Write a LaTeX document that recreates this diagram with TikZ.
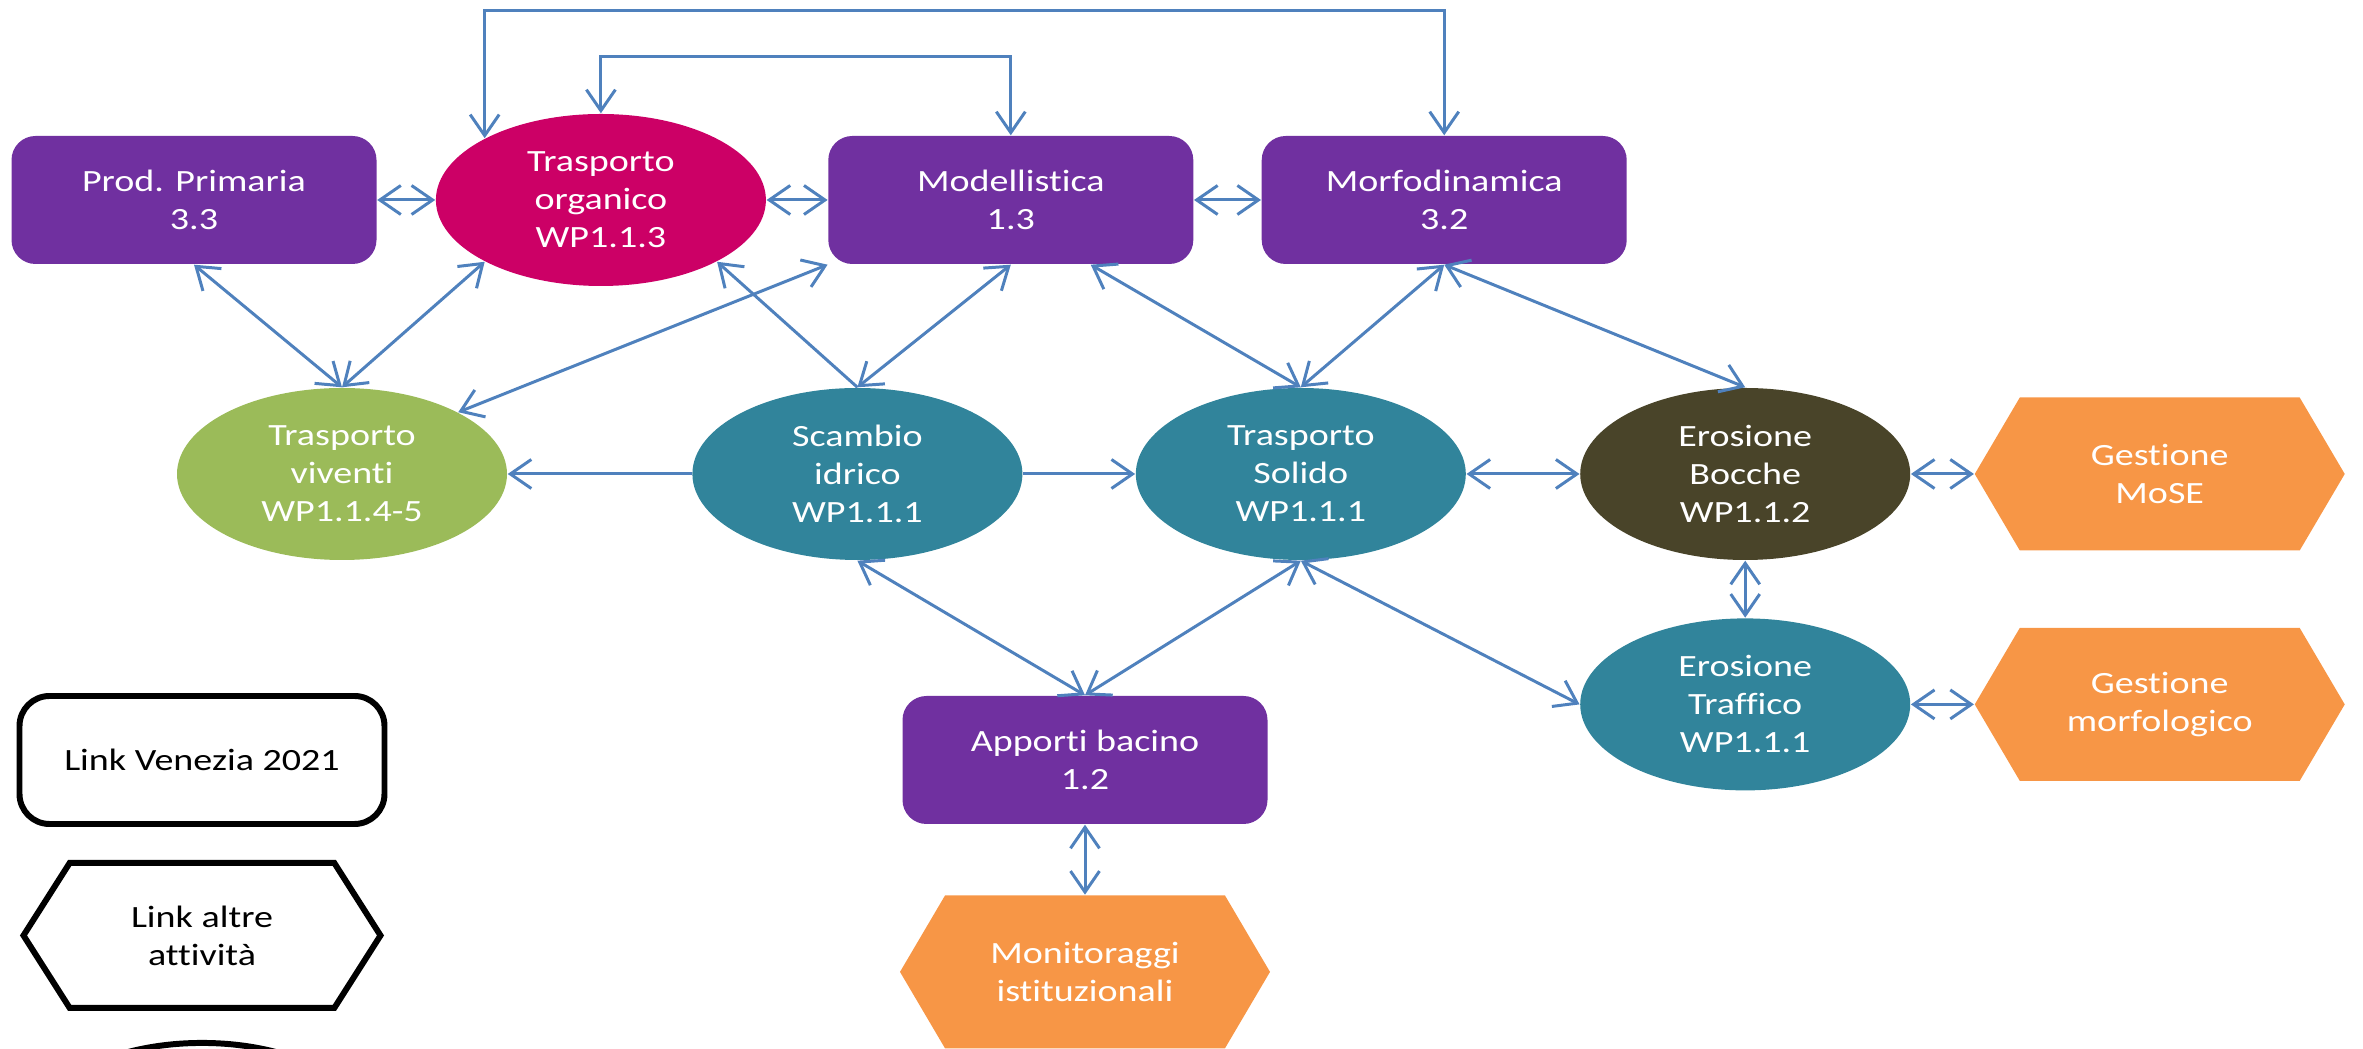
\documentclass[tikz,border=0pt]{standalone}
\usepackage{fontspec}
\setmainfont{Carlito}[FakeStretch=1.23,Ligatures=NoCommon]
\usetikzlibrary{arrows.meta,shapes.geometric,shapes.symbols}
\definecolor{wppurple}{HTML}{7030A0}
\definecolor{wpmagenta}{HTML}{CC0066}
\definecolor{wpgreen}{HTML}{9BBB59}
\definecolor{wpteal}{HTML}{31849B}
\definecolor{wpolive}{HTML}{494429}
\definecolor{wporange}{HTML}{F79646}
\definecolor{wplink}{HTML}{4F81BD}

\begin{document}
\begin{tikzpicture}[>={Straight Barb[length=0.21cm,width=0.29cm]},
  font=\fontsize{8.8}{10.8}\selectfont,
  box/.style={rectangle,rounded corners=0.24cm,minimum width=3.65cm,minimum height=1.28cm,align=center,text=white,fill=wppurple},
  oval/.style={ellipse,minimum width=3.3cm,minimum height=1.72cm,inner sep=0pt,align=center,text=white},
  hexa/.style={signal,signal to=east and west,signal pointer angle=119,minimum width=3.7cm,minimum height=1.53cm,align=center,text=white,fill=wporange},
  link/.style={wplink,line width=0.85pt}]

  \useasboundingbox (0,0) rectangle (23.63,-10.49);
  \clip (0,0) rectangle (23.63,-10.49);

  % Work packages, top row
  \node[box] (prod) at (1.94,-2.00) {Prod. Primaria\\3.3};
  \node[oval,fill=wpmagenta] (org) at (prod.east) [right=0.58cm] {Trasporto\\organico\\WP1.1.3};
  \node[box] (model) at (org.east) [right=0.61cm] {Modellistica\\1.3};
  \node[box] (morfo) at (model.east) [right=0.67cm] {Morfodinamica\\3.2};

  % Work packages, middle row
  \node[oval,fill=wpgreen] (viventi) at (3.42,-4.74) {Trasporto\\viventi\\WP1.1.4-5};
  \node[oval,fill=wpteal] (scambio) at (viventi.east) [right=1.84cm] {Scambio\\idrico\\WP1.1.1};
  \node[oval,fill=wpteal] (solido) at (scambio.east) [right=1.12cm] {Trasporto\\Solido\\WP1.1.1};
  \node[oval,fill=wpolive] (bocche) at (solido.east) [right=1.13cm] {Erosione\\Bocche\\WP1.1.2};
  \node[hexa] (mose) at (bocche.east) [right=0.63cm] {Gestione\\MoSE};
  \node[oval,fill=wpteal] (traffico) at (bocche.south) [below=0.57cm] {Erosione\\Traffico\\WP1.1.1};
  \node[hexa] (morfologico) at (traffico.east) [right=0.63cm] {Gestione\\morfologico};

  % Basin inputs
  \node[box] (apporti) at (10.85,-7.60) {Apporti bacino\\1.2};
  \node[hexa] (monitor) at (apporti.south) [below=0.70cm] {Monitoraggi\\istituzionali};

  % Legend
  \begin{scope}[every node/.style={draw=black,line width=1.7pt,text=black,align=center}]
    \node[rectangle,rounded corners=0.3cm,minimum width=3.65cm,minimum height=1.28cm] (venezia) at (2.02,-7.60) {Link Venezia 2021};
    \node[signal,signal to=east and west,signal pointer angle=115,minimum width=3.57cm,minimum height=1.45cm] (altre) at (venezia.south) [below=0.33cm] {Link altre\\attività};
    \node[ellipse,minimum width=3.3cm,minimum height=1.72cm] (legoval) at (altre.south) [below=0.29cm] {};
  \end{scope}

  \coordinate (top1) at (0,-0.11);
  \coordinate (top2) at (0,-0.57);

  \begin{scope}[link]
    \draw[<->] (prod) -- (org);
    \draw[<->] (org) -- (model);
    \draw[<->] (model) -- (morfo);
    \draw[<->] (org.north) -- (org.north |- top2) -| (model.north);
    \draw[<->] (org.152) -- (org.152 |- top1) -| (morfo.north);

    \draw[<->] (prod.south) -- (viventi.north);
    \draw[<->] (org.-152) -- (viventi.north);
    \draw[<->] (model.south west) -- (viventi.28);
    \draw[->]  (scambio.north) -- (org.-28);
    \draw[<->] (model.south) -- (scambio.north);
    \draw[<->] (model.-39) -- (solido.north);
    \draw[<->] (morfo.south) -- (solido.north);
    \draw[<->] (morfo.south) -- (bocche.north);

    \draw[->]  (scambio) -- (viventi);
    \draw[->]  (scambio) -- (solido);
    \draw[<->] (solido) -- (bocche);
    \draw[<->] (bocche.east) -- (mose.west);
    \draw[<->] (bocche) -- (traffico);
    \draw[<->] (traffico.east) -- (morfologico.west);

    \draw[<->] (scambio.south) -- (apporti.north);
    \draw[<->] (solido.south) -- (apporti.north);
    \draw[<->] (solido.south) -- (traffico.west);
    \draw[<->] (apporti.south) -- (monitor.north);
  \end{scope}

\end{tikzpicture}
\end{document}
